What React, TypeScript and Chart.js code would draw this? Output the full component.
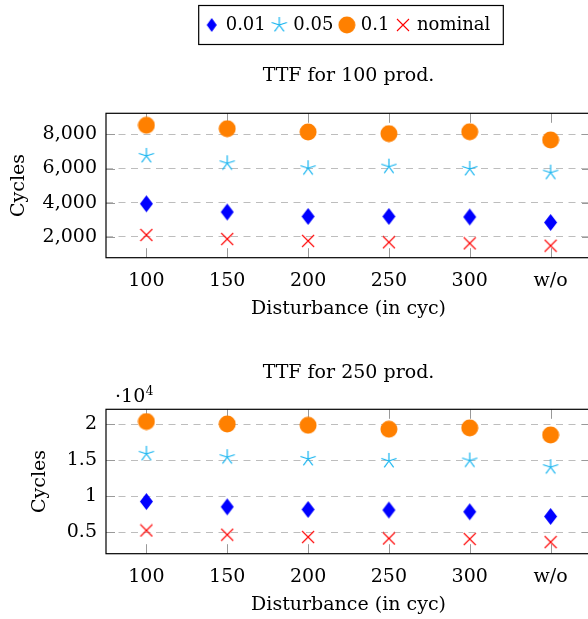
import React, { useEffect, useRef } from 'react';
import { Chart, registerables } from 'chart.js';

Chart.register(...registerables);

// ---------- data ----------
const CATEGORIES = ['100', '150', '200', '250', '300', 'w/o'];
const SERIES_LABELS = ['0.01', '0.05', '0.1', 'nominal'];

const TTF100_001 = [3940, 3460, 3200, 3200, 3170, 2850];
const TTF100_005 = [6740, 6310, 6020, 6110, 5980, 5760];
const TTF100_01 = [8530, 8330, 8140, 8040, 8150, 7670];
const TTF100_NOM = [2120, 1880, 1770, 1690, 1630, 1490];

const TTF250_001 = [9250, 8510, 8140, 8060, 7820, 7170];
const TTF250_005 = [15880, 15420, 15180, 14900, 14950, 14030];
const TTF250_01 = [20380, 20040, 19860, 19310, 19490, 18510];
const TTF250_NOM = [5220, 4630, 4310, 4110, 4030, 3600];

const TTF100_TICKS = [2000, 4000, 6000, 8000];
const TTF250_TICKS = [5000, 10000, 15000, 20000];
const TTF100_RANGE = [790, 9230];
const TTF250_RANGE = [1986, 22083];

const TITLE_100 = 'TTF for 100 prod.';
const TITLE_250 = 'TTF for 250 prod.';
const X_TITLE = 'Disturbance (in cyc)';
const Y_TITLE = 'Cycles';

// ---------- styles ----------
const FONT = "'DejaVu Serif', serif";
const COLORS = ['#0000ff', '#14b4f0', '#ff8000', '#ff0000'];

function makeCanvas(w: number, h: number, draw: (ctx: CanvasRenderingContext2D) => void) {
  const c = document.createElement('canvas');
  c.width = w;
  c.height = h;
  const ctx = c.getContext('2d')!;
  draw(ctx);
  return c;
}

function diamond(w: number, h: number, color: string) {
  return makeCanvas(Math.ceil(w + 2), Math.ceil(h + 2), (ctx) => {
    const cx = Math.ceil(w + 2) / 2, cy = Math.ceil(h + 2) / 2;
    ctx.fillStyle = color;
    ctx.beginPath();
    ctx.moveTo(cx, cy - h / 2);
    ctx.lineTo(cx + w / 2, cy);
    ctx.lineTo(cx, cy + h / 2);
    ctx.lineTo(cx - w / 2, cy);
    ctx.closePath();
    ctx.fill();
  });
}

function star(r: number, color: string) {
  const s = Math.ceil(r * 2 + 2);
  return makeCanvas(s, s, (ctx) => {
    const c = s / 2;
    ctx.strokeStyle = color;
    ctx.lineWidth = 1.2;
    ctx.beginPath();
    for (let k = 0; k < 5; k++) {
      const a = (-90 + 72 * k) * Math.PI / 180;
      ctx.moveTo(c, c);
      ctx.lineTo(c + r * Math.cos(a), c + r * Math.sin(a));
    }
    ctx.stroke();
  });
}

function circle(r: number, color: string) {
  const s = Math.ceil(r * 2 + 1);
  return makeCanvas(s, s, (ctx) => {
    ctx.fillStyle = color;
    ctx.beginPath();
    ctx.arc(s / 2, s / 2, r, 0, Math.PI * 2);
    ctx.fill();
  });
}

function cross(half: number, color: string) {
  const s = Math.ceil(half * 2 + 2);
  return makeCanvas(s, s, (ctx) => {
    const c = s / 2;
    ctx.strokeStyle = color;
    ctx.lineWidth = 1.1;
    ctx.beginPath();
    ctx.moveTo(c - half, c - half);
    ctx.lineTo(c + half, c + half);
    ctx.moveTo(c + half, c - half);
    ctx.lineTo(c - half, c + half);
    ctx.stroke();
  });
}

const framePlugin = {
  id: 'frameTicks',
  beforeDatasetsDraw(chart: any) {
    const { ctx, chartArea: a, scales } = chart;
    const xs = scales.x, ys = scales.y;
    ctx.save();
    ctx.lineWidth = 1;
    ctx.strokeStyle = '#999999';
    ctx.beginPath();
    xs.ticks.forEach((_t: any, i: number) => {
      const px = Math.round(xs.getPixelForTick(i)) + 0.5;
      ctx.moveTo(px, a.top);
      ctx.lineTo(px, a.top + 9.5);
      ctx.moveTo(px, a.bottom - 9.5);
      ctx.lineTo(px, a.bottom);
    });
    ys.ticks.forEach((t: any) => {
      const py = Math.round(ys.getPixelForValue(t.value)) + 0.5;
      ctx.moveTo(a.left, py);
      ctx.lineTo(a.left + 9, py);
      ctx.moveTo(a.right - 9, py);
      ctx.lineTo(a.right, py);
    });
    ctx.stroke();
    ctx.strokeStyle = '#000';
    ctx.lineWidth = 1.2;
    ctx.strokeRect(a.left, a.top, a.right - a.left, a.bottom - a.top);
    ctx.restore();
  },
};

const legendBoxPlugin = {
  id: 'legendBox',
  afterDraw(chart: any) {
    const lg = chart.legend;
    if (!lg || !lg.options.display) return;
    const hb = lg.legendHitBoxes;
    if (!hb || !hb.length) return;
    const left = Math.min(...hb.map((h: any) => h.left)) - 8;
    const right = Math.max(...hb.map((h: any) => h.left + h.width)) + 13;
    const top = hb[0].top - 10.5;
    const bottom = hb[0].top + hb[0].height + 10.5;
    const ctx = chart.ctx;
    ctx.save();
    ctx.strokeStyle = '#000';
    ctx.lineWidth = 1.2;
    ctx.strokeRect(left, top, right - left, bottom - top);
    ctx.restore();
  },
};

const multiplierPlugin = {
  id: 'multiplier',
  afterDraw(chart: any) {
    const { ctx, chartArea: a } = chart;
    ctx.save();
    ctx.fillStyle = '#000';
    ctx.textBaseline = 'alphabetic';
    ctx.textAlign = 'left';
    ctx.font = `19px ${FONT}`;
    const x = a.left + 9;
    ctx.fillText('·10', x, a.top - 7.6);
    const w = ctx.measureText('·10').width;
    ctx.font = `12px ${FONT}`;
    ctx.fillText('4', x + w + 0.5, a.top - 14.3);
    ctx.restore();
  },
};

function buildConfig(o: any) {
  const font = { family: FONT, size: 19 };
  return {
    type: 'line',
    data: {
      labels: CATEGORIES,
      datasets: SERIES_LABELS.map((label, i) => ({
        label,
        data: o.series[i],
        showLine: false,
        pointStyle: o.markers[i],
        pointRadius: 8,
        pointHoverRadius: 8,
        borderColor: COLORS[i],
        backgroundColor: COLORS[i],
      })),
    },
    options: {
      responsive: false,
      animation: false,
      events: [],
      layout: { autoPadding: false, padding: { left: o.padLeft, top: o.padTop, right: 0, bottom: 0 } },
      plugins: {
        legend: {
          display: o.showLegend,
          position: 'top',
          fullSize: false,
          weight: 3000,
          labels: {
            usePointStyle: true,
            pointStyleWidth: 10,
            padding: 8.5,
            color: '#000',
            font: { family: FONT, size: 18 },
            generateLabels: (chart: any) =>
              (Chart.defaults.plugins.legend.labels.generateLabels as any)(chart).map((it: any, i: number) => ({
                ...it,
                pointStyle: o.legendMarkers[i],
              })),
          },
        },
        title: {
          display: true,
          text: o.title,
          fullSize: false,
          color: '#000',
          font: { family: FONT, size: 19, weight: 'normal' },
          padding: o.titlePad,
        },
        tooltip: { enabled: false },
      },
      scales: {
        x: {
          type: 'category',
          offset: true,
          grid: { display: false },
          border: { display: false },
          ticks: { color: '#000', font, padding: 4, maxRotation: 0, autoSkip: false },
          title: { display: true, text: X_TITLE, color: '#000', font, padding: { top: 0, bottom: 9.6 } },
          afterFit: (s: any) => {
            s.height = 72.3;
            s.paddingLeft = 0;
            s.paddingRight = 0;
          },
        },
        y: {
          type: 'linear',
          min: o.range[0],
          max: o.range[1],
          grid: { color: '#bdbdbd', lineWidth: 1, drawTicks: false },
          border: { display: false, dash: [7, 5.5] },
          ticks: { color: '#000', font, padding: 9, callback: o.fmt },
          title: { display: true, text: Y_TITLE, color: '#000', font, padding: 0 },
          afterBuildTicks: (s: any) => { s.ticks = o.ticks.map((v: number) => ({ value: v })); },
          afterFit: (s: any) => {
            s.width = o.yWidth;
            s.paddingTop = 0;
            s.paddingBottom = 0;
          },
        },
      },
    },
    plugins: o.plugins,
  };
}

export default function App() {
  const ref1 = useRef<HTMLCanvasElement>(null);
  const ref2 = useRef<HTMLCanvasElement>(null);

  useEffect(() => {
    const markers = [
      diamond(13, 17, COLORS[0]),
      star(8, COLORS[1]),
      circle(8.5, COLORS[2]),
      cross(6, COLORS[3]),
    ];
    const legendMarkers = [
      diamond(10, 14, COLORS[0]),
      markers[1],
      markers[2],
      markers[3],
    ];
    const c1 = new Chart(ref1.current as any, buildConfig({
      series: [TTF100_001, TTF100_005, TTF100_01, TTF100_NOM],
      markers,
      legendMarkers,
      range: TTF100_RANGE,
      ticks: TTF100_TICKS,
      fmt: (v: any) => Number(v).toLocaleString('en-US'),
      title: TITLE_100,
      showLegend: true,
      padLeft: 8,
      padTop: 7.5,
      yWidth: 98,
      titlePad: { top: 21, bottom: 25.5 },
      plugins: [framePlugin, legendBoxPlugin],
    }) as any);
    const c2 = new Chart(ref2.current as any, buildConfig({
      series: [TTF250_001, TTF250_005, TTF250_01, TTF250_NOM],
      markers,
      legendMarkers,
      range: TTF250_RANGE,
      ticks: TTF250_TICKS,
      fmt: (v: any) => String(Number(v) / 10000),
      title: TITLE_250,
      showLegend: false,
      padLeft: 29,
      padTop: 0,
      yWidth: 77,
      titlePad: { top: 32, bottom: 24.5 },
      plugins: [framePlugin, multiplierPlugin],
    }) as any);
    return () => {
      c1.destroy();
      c2.destroy();
    };
  }, []);

  return (
    <div style={{ position: 'fixed', left: 0, top: 0, width: 588, height: 619, overflow: 'hidden', background: '#fff' }}>
      <canvas ref={ref1} width={591} height={330} style={{ position: 'absolute', left: 0, top: 0, width: 591, height: 330 }} />
      <canvas ref={ref2} width={591} height={296} style={{ position: 'absolute', left: 0, top: 330, width: 591, height: 296 }} />
    </div>
  );
}
